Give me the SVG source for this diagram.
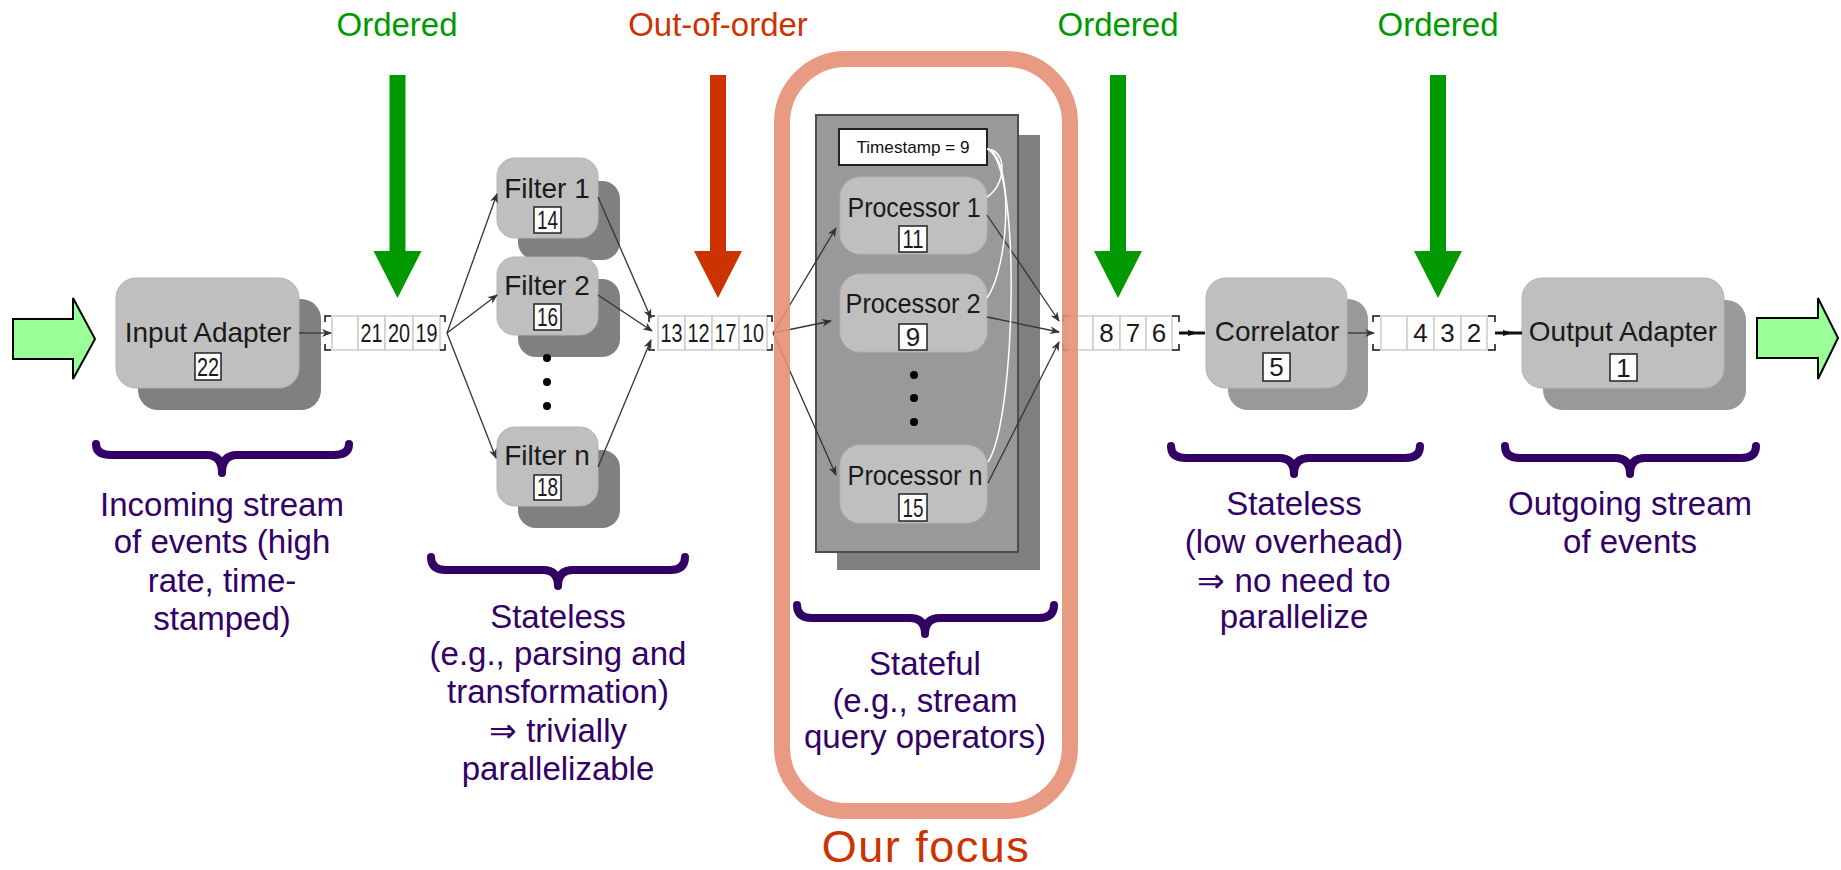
<svg xmlns="http://www.w3.org/2000/svg" width="1841" height="870" viewBox="0 0 1841 870">
<defs>
<style>
.lbl{font-family:"Liberation Sans",Arial,sans-serif;font-size:33px;fill:#330066;text-anchor:middle}
.hdrG{font-family:"Liberation Sans",Arial,sans-serif;font-size:33px;fill:#009900;text-anchor:middle}
.hdrR{font-family:"Liberation Sans",Arial,sans-serif;font-size:33px;fill:#CC3300;text-anchor:middle}
.box{font-family:"Liberation Sans",Arial,sans-serif;font-size:28px;fill:#1a1a1a;text-anchor:middle}
.num{font-family:"Liberation Sans",Arial,sans-serif;font-size:26px;fill:#1a1a1a;text-anchor:middle}
.front{fill:#bfbfbf;stroke:#b3b3b3;stroke-width:1}
.shadowD{fill:#808080}
.shadowL{fill:#999999}
.nbox{fill:#ffffff;stroke:#222;stroke-width:1.5}
.cell{fill:#ffffff;stroke:#cccccc;stroke-width:1.5}
.brk{fill:none;stroke:#111;stroke-width:1.5}
.brace{fill:none;stroke:#330066;stroke-width:8;stroke-linecap:round;stroke-linejoin:round}
.conn{fill:none;stroke:#333;stroke-width:1.3}
.thick{fill:none;stroke:#111;stroke-width:3}
.wire{fill:none;stroke:#ffffff;stroke-width:1.5}
.big{fill:#99FF99;stroke:#000;stroke-width:2}
</style>
<marker id="ah" viewBox="0 0 10 8" refX="9" refY="4" markerWidth="10" markerHeight="8" markerUnits="userSpaceOnUse" orient="auto">
<path d="M0,0 L10,4 L0,8 L3,4 Z" fill="#333"/>
</marker>
<path id="downArrow" d="M-8,75 H8 V251 H24 L0,298 L-24,251 H-8 Z"/>
</defs>
<rect width="1841" height="870" fill="#ffffff"/>

<g id="ordered1">
<text class="hdrG" x="397" y="36">Ordered</text>
<use href="#downArrow" x="397.5" fill="#009900"/>
</g>
<g id="outoforder">
<text class="hdrR" x="718" y="36">Out-of-order</text>
<use href="#downArrow" x="718" fill="#CC3300"/>
</g>
<g id="ordered2">
<text class="hdrG" x="1118" y="36">Ordered</text>
<use href="#downArrow" x="1118" fill="#009900"/>
</g>
<g id="ordered3">
<text class="hdrG" x="1438" y="36">Ordered</text>
<use href="#downArrow" x="1438" fill="#009900"/>
</g>

<g id="inArrow"><path class="big" d="M13,319 H73 V298 L95,339 L73,379 V359 H13 Z"/></g>
<g id="outArrow"><path class="big" d="M1757,318 H1818 V298 L1838,338 L1818,379 V358 H1757 Z"/></g>

<g id="inputAdapter">
<rect class="shadowD" x="138" y="299" width="183" height="111" rx="20"/>
<rect class="front" x="116" y="278" width="183" height="110" rx="20"/>
<text class="box" x="208" y="342">Input Adapter</text>
<rect class="nbox" x="195" y="353" width="26" height="27"/>
<text class="num" x="208" y="376" textLength="22" lengthAdjust="spacingAndGlyphs">22</text>
</g>

<g id="queue1">
<rect class="cell" x="332" y="316" width="26" height="34"/>
<rect class="cell" x="358" y="316" width="27" height="34"/>
<rect class="cell" x="385" y="316" width="28" height="34"/>
<rect class="cell" x="413" y="316" width="27" height="34"/>
<path class="brk" d="M331,316 H325 V322 M331,350 H325 V344 M440,316 H445 V322 M440,350 H445 V344"/>
<text class="num" x="371.5" y="342" textLength="22" lengthAdjust="spacingAndGlyphs">21</text>
<text class="num" x="399" y="342" textLength="22" lengthAdjust="spacingAndGlyphs">20</text>
<text class="num" x="426.5" y="342" textLength="22" lengthAdjust="spacingAndGlyphs">19</text>
</g>

<g id="filter1">
<rect class="shadowD" x="518" y="181" width="102" height="79" rx="18"/>
<rect class="front" x="497" y="158" width="101" height="80" rx="18"/>
<text class="box" x="547" y="198">Filter 1</text>
<rect class="nbox" x="534" y="207" width="27" height="26"/>
<text class="num" x="547.5" y="229" textLength="21" lengthAdjust="spacingAndGlyphs">14</text>
</g>
<g id="filter2">
<rect class="shadowD" x="518" y="279" width="102" height="78" rx="18"/>
<rect class="front" x="497" y="257" width="101" height="78" rx="18"/>
<text class="box" x="547" y="295">Filter 2</text>
<rect class="nbox" x="534" y="304" width="27" height="26"/>
<text class="num" x="547.5" y="326" textLength="21" lengthAdjust="spacingAndGlyphs">16</text>
</g>
<g id="filterDots" fill="#000">
<circle cx="547" cy="358" r="4"/>
<circle cx="547" cy="382" r="4"/>
<circle cx="547" cy="406" r="4"/>
</g>
<g id="filterN">
<rect class="shadowD" x="518" y="450" width="102" height="78" rx="18"/>
<rect class="front" x="497" y="427" width="101" height="79" rx="18"/>
<text class="box" x="547" y="465">Filter n</text>
<rect class="nbox" x="534" y="475" width="27" height="25"/>
<text class="num" x="547.5" y="496" textLength="21" lengthAdjust="spacingAndGlyphs">18</text>
</g>

<g id="queue2">
<rect class="cell" x="658" y="316" width="27" height="34"/>
<rect class="cell" x="685" y="316" width="27" height="34"/>
<rect class="cell" x="712" y="316" width="27" height="34"/>
<rect class="cell" x="739" y="316" width="28" height="34"/>
<path class="brk" d="M655,316 H649 V322 M655,350 H649 V344 M767,316 H772 V322 M767,350 H772 V344"/>
<text class="num" x="671.5" y="342" textLength="22" lengthAdjust="spacingAndGlyphs">13</text>
<text class="num" x="698.5" y="342" textLength="22" lengthAdjust="spacingAndGlyphs">12</text>
<text class="num" x="725.5" y="342" textLength="22" lengthAdjust="spacingAndGlyphs">17</text>
<text class="num" x="753" y="342" textLength="22" lengthAdjust="spacingAndGlyphs">10</text>
</g>

<g id="processorPanel">
<rect x="837" y="135" width="203" height="435" fill="#7f7f7f"/>
<rect x="816" y="115" width="202" height="437" fill="#999999" stroke="#4d4d4d" stroke-width="2"/>
</g>
<g id="timestamp">
<rect x="839" y="129" width="148" height="36" fill="#ffffff" stroke="#222" stroke-width="2"/>
<text x="913" y="153" font-family="Liberation Sans, Arial, sans-serif" font-size="17" fill="#111" text-anchor="middle" textLength="113" lengthAdjust="spacingAndGlyphs">Timestamp = 9</text>
</g>
<g id="processor1">
<rect class="front" x="840" y="177" width="147" height="77" rx="20"/>
<text class="box" x="914" y="217" textLength="133" lengthAdjust="spacingAndGlyphs">Processor 1</text>
<rect class="nbox" x="899" y="226" width="28" height="26"/>
<text class="num" x="913" y="248" textLength="21" lengthAdjust="spacingAndGlyphs">11</text>
</g>
<g id="processor2">
<rect class="front" x="840" y="274" width="147" height="78" rx="20"/>
<text class="box" x="913" y="313" textLength="135" lengthAdjust="spacingAndGlyphs">Processor 2</text>
<rect class="nbox" x="899" y="324" width="28" height="26"/>
<text class="num" x="913" y="346">9</text>
</g>
<g id="procDots" fill="#000">
<circle cx="914" cy="375" r="4"/>
<circle cx="914" cy="398" r="4"/>
<circle cx="914" cy="422" r="4"/>
</g>
<g id="processorN">
<rect class="front" x="840" y="445" width="147" height="78" rx="20"/>
<text class="box" x="915" y="485" textLength="135" lengthAdjust="spacingAndGlyphs">Processor n</text>
<rect class="nbox" x="899" y="494" width="28" height="27"/>
<text class="num" x="913" y="517" textLength="21" lengthAdjust="spacingAndGlyphs">15</text>
</g>

<g id="queue3">
<rect class="cell" x="1066" y="316" width="27" height="34"/>
<rect class="cell" x="1093" y="316" width="27" height="34"/>
<rect class="cell" x="1120" y="316" width="26" height="34"/>
<rect class="cell" x="1146" y="316" width="26" height="34"/>
<path class="brk" d="M1069,316 H1063 V322 M1069,350 H1063 V344 M1172,316 H1179 V322 M1172,350 H1179 V344"/>
<text class="num" x="1106.5" y="342">8</text>
<text class="num" x="1133" y="342">7</text>
<text class="num" x="1159" y="342">6</text>
</g>

<g id="correlator">
<rect class="shadowL" x="1228" y="299" width="140" height="111" rx="20"/>
<rect class="front" x="1206" y="278" width="141" height="110" rx="20"/>
<text class="box" x="1277" y="341">Correlator</text>
<rect class="nbox" x="1263" y="353" width="27" height="28"/>
<text class="num" x="1276.5" y="376">5</text>
</g>

<g id="queue4">
<rect class="cell" x="1381" y="316" width="26" height="34"/>
<rect class="cell" x="1407" y="316" width="27" height="34"/>
<rect class="cell" x="1434" y="316" width="27" height="34"/>
<rect class="cell" x="1461" y="316" width="26" height="34"/>
<path class="brk" d="M1380,316 H1373 V322 M1380,350 H1373 V344 M1488,316 H1495 V322 M1488,350 H1495 V344"/>
<text class="num" x="1420.5" y="342">4</text>
<text class="num" x="1447.5" y="342">3</text>
<text class="num" x="1474" y="342">2</text>
</g>

<g id="outputAdapter">
<rect class="shadowL" x="1543" y="300" width="203" height="110" rx="20"/>
<rect class="front" x="1522" y="278" width="202" height="110" rx="20"/>
<text class="box" x="1623" y="341">Output Adapter</text>
<rect class="nbox" x="1610" y="354" width="27" height="27"/>
<text class="num" x="1623.5" y="377">1</text>
</g>

<g id="connectors">
<line class="conn" x1="299" y1="333" x2="331" y2="333" marker-end="url(#ah)"/>
<line class="conn" x1="447" y1="333" x2="497" y2="194" marker-end="url(#ah)"/>
<line class="conn" x1="447" y1="333" x2="497" y2="295" marker-end="url(#ah)"/>
<line class="conn" x1="447" y1="333" x2="496" y2="458" marker-end="url(#ah)"/>
<line class="conn" x1="598" y1="197" x2="651" y2="318" marker-end="url(#ah)"/>
<line class="conn" x1="598" y1="295" x2="652" y2="331" marker-end="url(#ah)"/>
<line class="conn" x1="598" y1="467" x2="651" y2="340" marker-end="url(#ah)"/>
<line class="conn" x1="773" y1="333" x2="836" y2="228" marker-end="url(#ah)"/>
<line class="conn" x1="773" y1="333" x2="831" y2="321" marker-end="url(#ah)"/>
<line class="conn" x1="773" y1="333" x2="836" y2="475" marker-end="url(#ah)"/>
<line class="conn" x1="987" y1="215" x2="1059" y2="321" marker-end="url(#ah)"/>
<line class="conn" x1="987" y1="317" x2="1059" y2="332" marker-end="url(#ah)"/>
<line class="conn" x1="988" y1="483" x2="1059" y2="342" marker-end="url(#ah)"/>
<line class="thick" x1="1179" y1="333" x2="1205" y2="333"/>
<path d="M1188,330 L1198,333 L1188,336 Z" fill="#111"/>
<line class="conn" x1="1348" y1="333" x2="1374" y2="333" marker-end="url(#ah)"/>
<line class="thick" x1="1495" y1="333" x2="1522" y2="333"/>
<path d="M1503,330 L1513,333 L1503,336 Z" fill="#111"/>
<path class="wire" d="M987,149 C1008,150 1006,185 987,197"/>
<path class="wire" d="M987,149 C1014,155 1010,265 987,298"/>
<path class="wire" d="M987,149 C1022,160 1016,420 988,462"/>
</g>

<g id="focus">
<rect x="782" y="59" width="288" height="752" rx="64" fill="none" stroke="#E58F74" stroke-opacity="0.9" stroke-width="16"/>
<text x="926" y="862" font-family="Liberation Sans, Arial, sans-serif" font-size="45" letter-spacing="1.5" fill="#CC3300" text-anchor="middle">Our focus</text>
</g>

<g id="desc1">
<path class="brace" d="M96,444 Q96,455 111,455 H207 Q222,455 222,473 Q222,455 237,455 H334 Q349,455 349,444"/>
<text class="lbl" x="222" y="516">Incoming stream</text>
<text class="lbl" x="222" y="553">of events (high</text>
<text class="lbl" x="222" y="592">rate, time-</text>
<text class="lbl" x="222" y="630">stamped)</text>
</g>
<g id="desc2">
<path class="brace" d="M431,557 Q431,570 446,570 H543 Q558,570 558,586 Q558,570 573,570 H670 Q685,570 685,557"/>
<text class="lbl" x="558" y="628">Stateless</text>
<text class="lbl" x="558" y="665">(e.g., parsing and</text>
<text class="lbl" x="558" y="703">transformation)</text>
<text class="lbl" x="558" y="742">⇒ trivially</text>
<text class="lbl" x="558" y="780">parallelizable</text>
</g>
<g id="desc3">
<path class="brace" d="M797,605 Q797,618 812,618 H910 Q925,618 925,634 Q925,618 940,618 H1039 Q1054,618 1054,605"/>
<text class="lbl" x="925" y="675">Stateful</text>
<text class="lbl" x="925" y="712">(e.g., stream</text>
<text class="lbl" x="925" y="748">query operators)</text>
</g>
<g id="desc4">
<path class="brace" d="M1171,446 Q1171,458 1186,458 H1279 Q1294,458 1294,474 Q1294,458 1309,458 H1405 Q1420,458 1420,446"/>
<text class="lbl" x="1294" y="515">Stateless</text>
<text class="lbl" x="1294" y="553">(low overhead)</text>
<text class="lbl" x="1294" y="592">⇒ no need to</text>
<text class="lbl" x="1294" y="628">parallelize</text>
</g>
<g id="desc5">
<path class="brace" d="M1505,446 Q1505,458 1520,458 H1615 Q1630,458 1630,474 Q1630,458 1645,458 H1741 Q1756,458 1756,446"/>
<text class="lbl" x="1630" y="515">Outgoing stream</text>
<text class="lbl" x="1630" y="553">of events</text>
</g>
</svg>
